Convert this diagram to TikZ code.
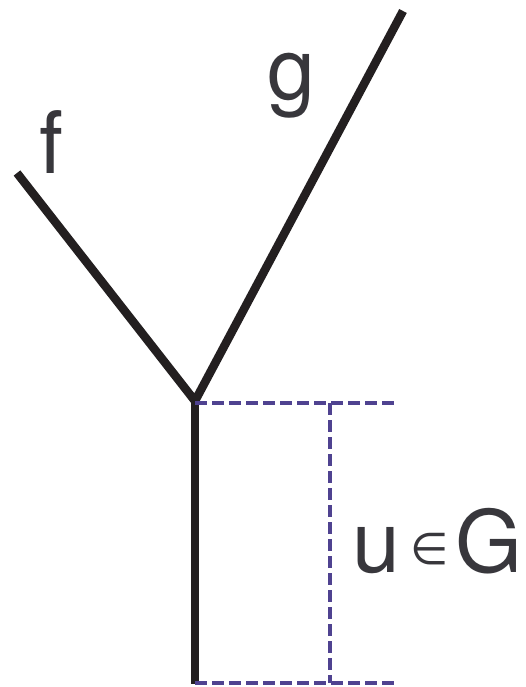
\documentclass[tikz,border=0pt]{standalone}
\usepackage{fontspec}
\setmainfont{TeX Gyre Heros}
\newfontfamily\symbfont{DejaVu Sans}
\usepackage{tikz}
\definecolor{stemblack}{HTML}{231F20}
\definecolor{labelgray}{HTML}{38373C}
\definecolor{boxblue}{HTML}{4F4290}

\begin{document}
\begin{tikzpicture}[
    x=1pt, y=-1pt,
    branch/.style={line width=8.5pt, draw=stemblack},
    guide/.style={line width=3.8pt, draw=boxblue, dash pattern=on 12pt off 5pt},
    lbl/.style={anchor=base west, inner sep=0pt, text=labelgray, font=\fontsize{86}{86}\selectfont}
]
\useasboundingbox (0,0) rectangle (525,687);

\coordinate (fork) at (195,401);
\coordinate (fend) at (17,173);
\coordinate (gend) at (403,11);
\coordinate (root) at (195,684);
\coordinate (toptip) at (396,403);
\coordinate (bottip) at (398,683);
\coordinate (topmid) at (330,403);
\coordinate (botmid) at (330,683);

\node (flbl) [lbl] at (39,173) {f};
\node (glbl) [lbl] at (267,100) {g};
\node (ulbl) [lbl] at (352,572) {u\kern 10pt\raisebox{8pt}{\symbfont\fontsize{44}{44}\selectfont ∈}\kern 7pt G};

% the two branches and the stem
\draw [branch] (fend) -- (fork) -- (gend);
\draw [branch] (fork) -- (root);

% dashed bracket
\draw [guide] (fork |- toptip) -- (toptip);
\draw [guide] (root |- bottip) -- (bottip);
\draw [guide] (topmid) -- (botmid);

\end{tikzpicture}
\end{document}
